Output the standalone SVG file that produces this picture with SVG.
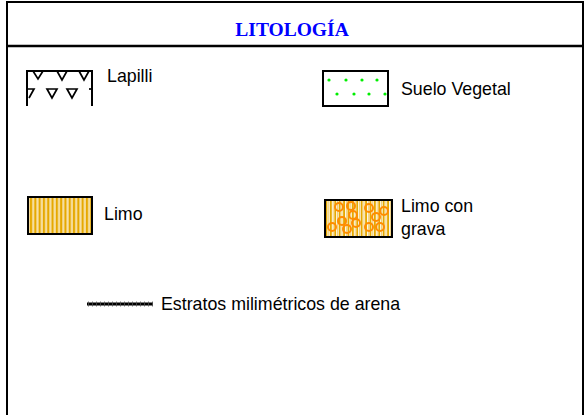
<svg xmlns="http://www.w3.org/2000/svg" width="585" height="415" viewBox="0 0 585 415">
<style>
.lbl{font-family:"Liberation Sans",Arial,sans-serif;font-size:17.8px;fill:#000}
.box{fill:none;stroke:#000;stroke-width:2}
.frame{fill:none;stroke:#000;stroke-width:2}
.tri{fill:none;stroke:#000;stroke-width:1.7}
.dot{fill:#00ee00}
.peb{fill:none;stroke:#ff8c00;stroke-width:2}
</style>
<defs>
<pattern id="stripes" x="0" y="0" width="4.3" height="10" patternUnits="userSpaceOnUse">
<rect x="0" y="0" width="2.2" height="10" fill="#e6a800"/>
<rect x="3" y="0" width="1" height="10" fill="#efc455"/>
</pattern>
<pattern id="stripes2" x="0" y="0" width="4.4" height="10" patternUnits="userSpaceOnUse">
<rect x="0" y="0" width="1.8" height="10" fill="#e6a800"/>
<rect x="2.8" y="0" width="1" height="10" fill="#efc455"/>
</pattern>
</defs>
<rect x="0" y="0" width="585" height="415" fill="#fff"/>
<g id="frame">
<path class="frame" d="M7,415 V2 H583 V415"/>
<line x1="7" y1="46" x2="583" y2="46" stroke="#000" stroke-width="2.5"/>
<text x="292" y="36" text-anchor="middle" style="font-family:'Liberation Serif','Times New Roman',serif;font-size:19.5px;font-weight:bold;fill:#0000ff">LITOLOGÍA</text>
</g>
<g id="lapilli">
<path class="box" d="M27,106 V71 H92 V106"/>
<path class="tri" d="M33,71 L38,79 L43,71"/>
<path class="tri" d="M57,71 L62,80 L67,71Z"/>
<path class="tri" d="M79,71 L84,80 L89,71Z"/>
<path class="tri" d="M28,89 H34 L29,98"/>
<path class="tri" d="M47,89 L52,98 L57,89Z"/>
<path class="tri" d="M67,89 L72,98 L77,89Z"/>
<path class="tri" d="M89,89 H92"/>
<text class="lbl" x="107" y="82">Lapilli</text>
</g>
<g id="suelo-vegetal">
<rect class="box" x="323" y="71" width="65" height="35"/>
<circle class="dot" cx="329" cy="80" r="1.6"/>
<circle class="dot" cx="346" cy="80" r="1.6"/>
<circle class="dot" cx="362" cy="80" r="1.6"/>
<circle class="dot" cx="377" cy="80" r="1.6"/>
<circle class="dot" cx="337" cy="94" r="1.6"/>
<circle class="dot" cx="354" cy="94" r="1.6"/>
<circle class="dot" cx="369" cy="94" r="1.6"/>
<circle class="dot" cx="385" cy="94" r="1.6"/>
<text class="lbl" x="401" y="95">Suelo Vegetal</text>
</g>
<g id="limo">
<rect x="28" y="197" width="64" height="37" fill="url(#stripes)"/>
<rect class="box" x="28" y="197" width="64" height="37"/>
<text class="lbl" x="104" y="220">Limo</text>
</g>
<g id="limo-con-grava">
<rect x="325" y="200" width="67" height="37" fill="url(#stripes2)"/>
<circle class="peb" cx="339" cy="207" r="4"/>
<circle class="peb" cx="351" cy="206" r="4"/>
<circle class="peb" cx="369" cy="208" r="4"/>
<circle class="peb" cx="384" cy="211" r="4"/>
<circle class="peb" cx="353" cy="215" r="4"/>
<circle class="peb" cx="376" cy="217" r="4"/>
<circle class="peb" cx="342" cy="221" r="4"/>
<circle class="peb" cx="356" cy="223" r="4"/>
<circle class="peb" cx="332" cy="227" r="4"/>
<circle class="peb" cx="347" cy="229" r="4"/>
<circle class="peb" cx="369" cy="227" r="4"/>
<circle class="peb" cx="380" cy="227" r="4"/>
<rect class="box" x="325" y="200" width="67" height="37"/>
<text class="lbl" x="401" y="212">Limo con</text>
<text class="lbl" x="401" y="235">grava</text>
</g>
<g id="estratos">
<line x1="87" y1="304" x2="153" y2="304" stroke="#000" stroke-width="3"/>
<line x1="88" y1="304" x2="153" y2="304" stroke="#555" stroke-width="5" stroke-dasharray="0.8,3.2"/>
<text class="lbl" x="161" y="310">Estratos milimétricos de arena</text>
</g>
</svg>
